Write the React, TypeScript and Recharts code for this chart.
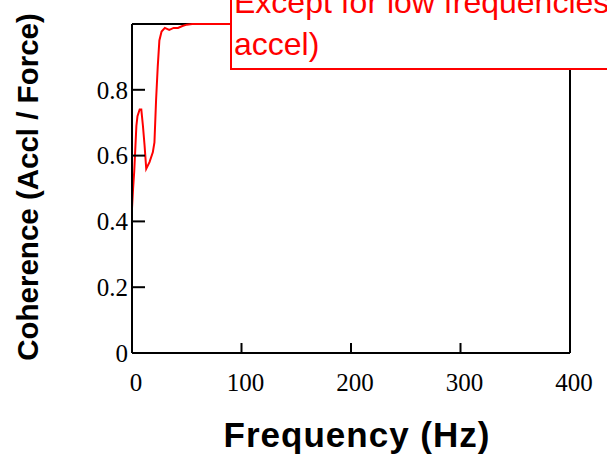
import { LineChart, Line, XAxis, YAxis, ReferenceLine, Label } from "recharts";

// frequency (Hz) and coherence
const freq = [0, 1, 2, 3, 4, 5, 7, 8.5, 10, 11.5, 13, 16, 19, 20.5, 22, 23.5, 25, 27, 30, 34, 38, 42, 46, 50, 55, 100, 200, 300, 400];
const coherence = [0.44, 0.5, 0.55, 0.62, 0.69, 0.72, 0.74, 0.74, 0.69, 0.63, 0.56, 0.58, 0.61, 0.64, 0.77, 0.87, 0.95, 0.977, 0.988, 0.982, 0.988, 0.988, 0.994, 0.998, 1, 1, 1, 1, 1];

const xTicks = [0, 100, 200, 300, 400];
const yTicks = [0, 0.2, 0.4, 0.6, 0.8];

const data = freq.map((f, i) => ({ freq: f, coh: coherence[i] }));

const tickFont = { fontFamily: "'Liberation Serif', 'Times New Roman', serif", fontSize: 25, fill: "#000" };

const XTitle = () => (
  <text
    x={357}
    y={447}
    textAnchor="middle"
    fontFamily="'Liberation Sans', Arial, sans-serif"
    fontWeight="bold"
    fontSize={35}
    letterSpacing={1}
    fill="#000"
  >
    Frequency (Hz)
  </text>
);

const YTitle = () => (
  <text
    x={27}
    y={187}
    transform="rotate(-90, 27, 187)"
    textAnchor="middle"
    dominantBaseline="central"
    fontFamily="'Liberation Sans', Arial, sans-serif"
    fontWeight="bold"
    fontSize={29.5}
    fill="#000"
  >
    Coherence (Accl / Force)
  </text>
);

export default function App() {
  return (
    <div style={{ position: "absolute", left: 0, top: 0, width: 607, height: 456, overflow: "hidden", background: "#fff" }}>
      <LineChart width={607} height={456} data={data} margin={{ top: 24, right: 37, bottom: 0, left: 0 }}>
        <XAxis
          dataKey="freq"
          type="number"
          domain={[0, 400]}
          ticks={xTicks}
          height={103}
          tickSize={-10}
          tickMargin={30}
          tick={{ ...tickFont, dx: 4 }}
          axisLine={{ stroke: "#000", strokeWidth: 2 }}
          tickLine={{ stroke: "#000", strokeWidth: 2 }}
        >
          <Label content={<XTitle />} />
        </XAxis>
        <YAxis
          type="number"
          domain={[0, 1]}
          ticks={yTicks}
          width={132}
          tickSize={-13}
          tickMargin={17}
          tick={tickFont}
          axisLine={{ stroke: "#000", strokeWidth: 2 }}
          tickLine={{ stroke: "#000", strokeWidth: 2 }}
        >
          <Label content={<YTitle />} />
        </YAxis>
        <ReferenceLine y={1} stroke="#000" strokeWidth={2} />
        <ReferenceLine x={400} stroke="#000" strokeWidth={2} />
        <Line
          type="linear"
          dataKey="coh"
          stroke="#ff0000"
          strokeWidth={2}
          dot={false}
          isAnimationActive={false}
        />
      </LineChart>
      <div
        style={{
          position: "absolute",
          left: 230,
          top: -40,
          width: 420,
          height: 87,
          border: "2px solid #ff0000",
          background: "#fff",
          boxSizing: "content-box",
          color: "#ff0000",
          fontFamily: "'Liberation Sans', Arial, sans-serif",
          fontSize: 32,
          lineHeight: "42px",
          paddingLeft: 2,
          paddingTop: 19,
          whiteSpace: "nowrap",
        }}
      >
        Except for low frequencies (high
        <br />
        accel)
      </div>
    </div>
  );
}
